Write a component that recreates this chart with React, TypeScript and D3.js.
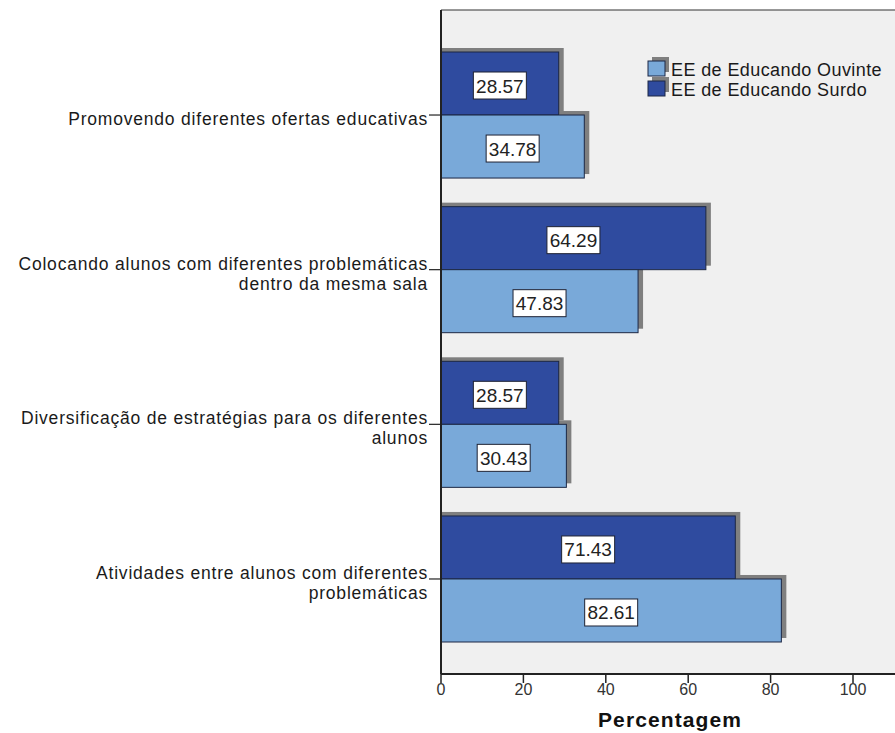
import React from "react";
import * as d3 from "d3";

const categories: string[][] = [
  ["Promovendo diferentes ofertas educativas"],
  ["Colocando alunos com diferentes problemáticas", "dentro da mesma sala"],
  ["Diversificação de estratégias para os diferentes", "alunos"],
  ["Atividades entre alunos com diferentes", "problemáticas"],
];
const seriesNames = ["EE de Educando Surdo", "EE de Educando Ouvinte"];
const surdoValues = [28.57, 64.29, 28.57, 71.43];
const ouvinteValues = [34.78, 47.83, 30.43, 82.61];
const xTicks = [0, 20, 40, 60, 80, 100];
const legendOrder = ["EE de Educando Ouvinte", "EE de Educando Surdo"];

const W = 895;
const H = 733;
const FONT = "'Liberation Sans', Arial, Helvetica, sans-serif";

const plot = { left: 441, top: 10, right: 897, bottom: 674 };
const colors: Record<string, string> = {
  "EE de Educando Surdo": "#2f4b9f",
  "EE de Educando Ouvinte": "#79a9d9",
};

export default function App() {
  const x = d3.scaleLinear().domain([0, 100]).range([plot.left, 853]);
  const y = d3
    .scaleBand<number>()
    .domain(d3.range(categories.length))
    .range([52, 642])
    .paddingInner(0.185)
    .paddingOuter(0);
  const sub = d3.scaleBand<string>().domain(seriesNames).range([0, y.bandwidth()]);
  const valuesBySeries: Record<string, number[]> = {
    "EE de Educando Surdo": surdoValues,
    "EE de Educando Ouvinte": ouvinteValues,
  };

  const bars = categories.flatMap((_, i) =>
    seriesNames.map((s) => ({
      i,
      s,
      v: valuesBySeries[s][i],
      y0: (y(i) as number) + (sub(s) as number),
      h: sub.bandwidth(),
    }))
  );

  const lineH = 20;

  return (
    <svg
      width={W}
      height={H}
      style={{ position: "absolute", left: 0, top: 0, display: "block", background: "#fff" }}
      fontFamily={FONT}
    >
      <defs>
        <filter id="soft" x="-5%" y="-10%" width="110%" height="120%">
          <feGaussianBlur stdDeviation="0.7" />
        </filter>
      </defs>
      {/* plot background */}
      <rect
        x={plot.left}
        y={plot.top}
        width={plot.right - plot.left}
        height={plot.bottom - plot.top}
        fill="#f0f0f0"
      />
      <line x1={plot.left} x2={plot.right} y1={plot.top} y2={plot.top} stroke="#333" strokeWidth={1.2} />

      {/* bar shadows */}
      {bars.map((b) => (
        <rect
          key={`sh-${b.i}-${b.s}`}
          x={plot.left}
          y={b.y0 - 4}
          width={x(b.v) - plot.left + 5}
          height={b.h}
          fill="#7f7f7f"
          filter="url(#soft)"
        />
      ))}
      {/* bars */}
      {bars.map((b) => (
        <rect
          key={`bar-${b.i}-${b.s}`}
          x={plot.left}
          y={b.y0}
          width={x(b.v) - plot.left}
          height={b.h}
          fill={colors[b.s]}
          stroke="#1c2744"
          strokeWidth={1}
        />
      ))}

      {/* value labels */}
      {bars.map((b) => {
        const cx = (plot.left + x(b.v)) / 2;
        const cy = b.y0 + b.h / 2 + 2;
        const bw = 53;
        const bh = 27;
        return (
          <g key={`lab-${b.i}-${b.s}`}>
            <rect x={cx - bw / 2} y={cy - bh / 2} width={bw} height={bh} fill="#fff" stroke="#1e2233" strokeWidth={1} />
            <text x={cx} y={cy + 7} textAnchor="middle" fontSize={19} fill="#222">
              {b.v.toFixed(2)}
            </text>
          </g>
        );
      })}

      {/* category axis */}
      <line x1={plot.left} x2={plot.left} y1={plot.top} y2={plot.bottom} stroke="#222" strokeWidth={2} />
      {categories.map((lines, i) => {
        const ty = (y(i) as number) + y.bandwidth() / 2;
        const first = lines.length === 1 ? ty + 10 : ty;
        return (
          <g key={`cat-${i}`}>
            <line x1={429} x2={plot.left} y1={ty} y2={ty} stroke="#222" strokeWidth={1.2} />
            <text textAnchor="end" fontSize={17.5} fill="#1a1a1a" letterSpacing={0.8}>
              {lines.map((ln, k) => (
                <tspan key={k} x={428} y={first + k * lineH}>
                  {ln}
                </tspan>
              ))}
            </text>
          </g>
        );
      })}

      {/* value axis */}
      <line x1={plot.left} x2={plot.right} y1={plot.bottom} y2={plot.bottom} stroke="#222" strokeWidth={2} />
      {xTicks.map((t) => (
        <g key={`xt-${t}`}>
          <line x1={x(t)} x2={x(t)} y1={plot.bottom} y2={plot.bottom + 9} stroke="#222" strokeWidth={1.5} />
          <text x={x(t)} y={695} textAnchor="middle" fontSize={16} fill="#333">
            {t}
          </text>
        </g>
      ))}
      <text x={670} y={727} textAnchor="middle" fontSize={21} fontWeight="bold" fill="#111" letterSpacing={1.1}>
        Percentagem
      </text>

      {/* legend */}
      {legendOrder.map((s, k) => {
        const ly = 61 + k * 20;
        return (
          <g key={`lg-${s}`}>
            <rect x={652} y={ly - 4} width={17} height={15} fill="#7f7f7f" filter="url(#soft)" />
            <rect x={648} y={ly} width={17} height={15} fill={colors[s]} stroke="#1c2744" strokeWidth={1} />
            <text x={671} y={ly + 15} fontSize={18} fill="#1a1a1a" letterSpacing={0.4}>
              {s}
            </text>
          </g>
        );
      })}
    </svg>
  );
}
